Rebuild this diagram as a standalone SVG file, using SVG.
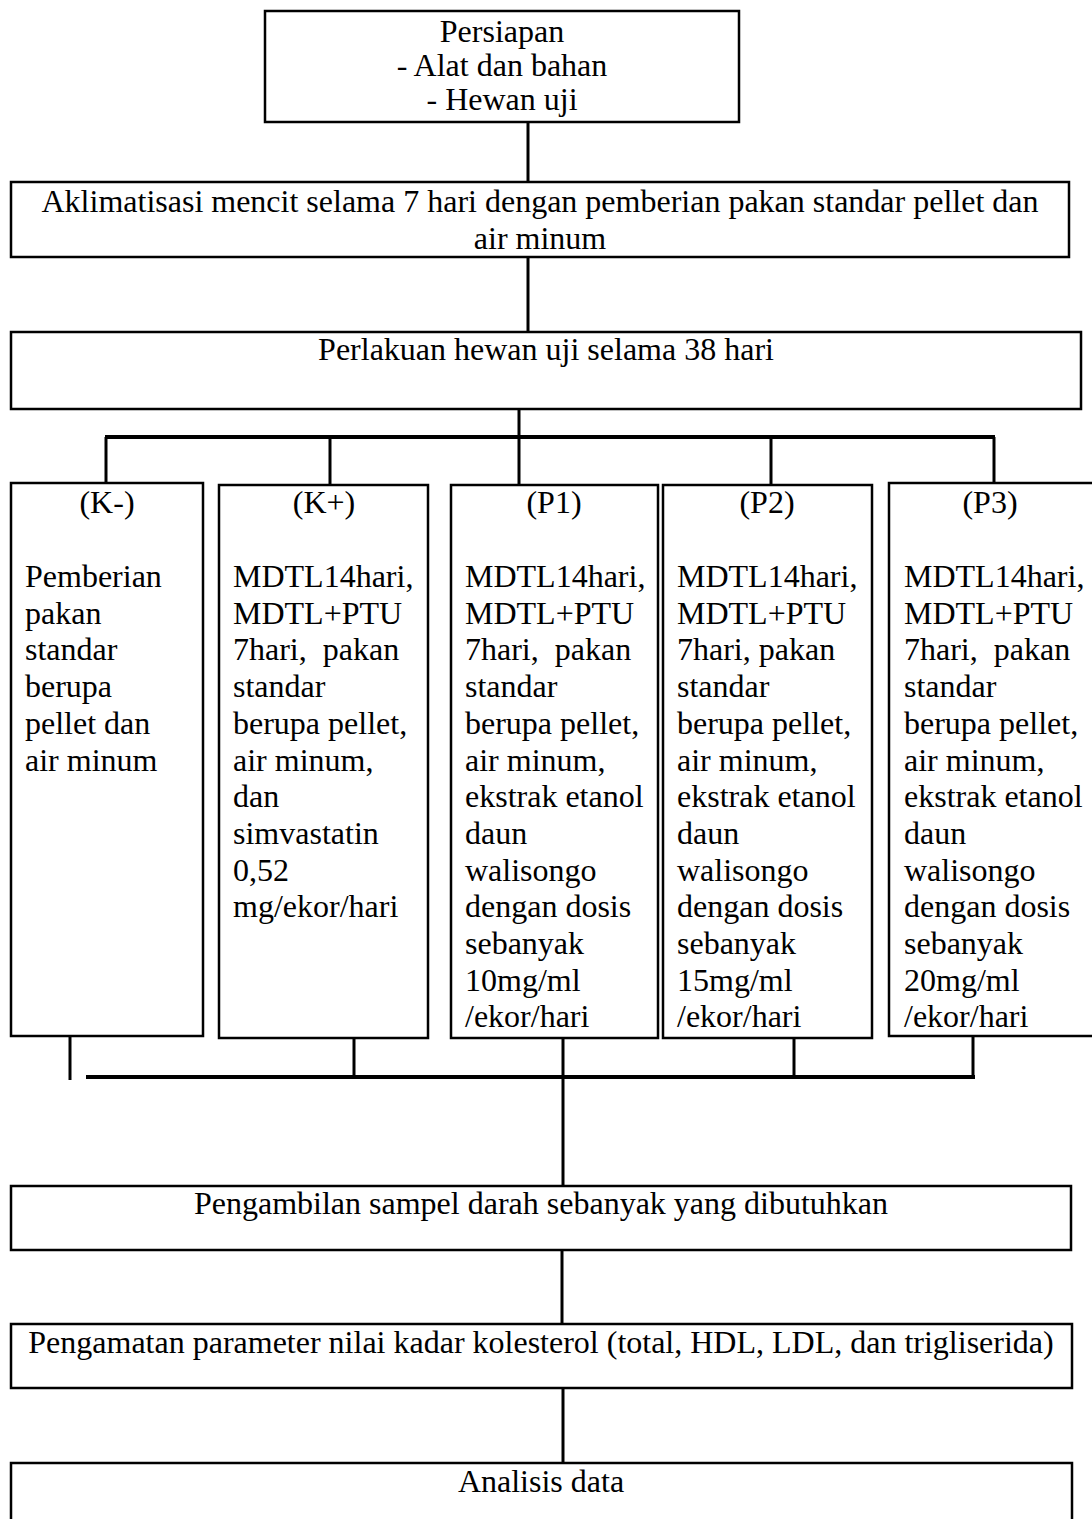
<svg xmlns="http://www.w3.org/2000/svg" width="1092" height="1519" viewBox="0 0 1092 1519">
<style>
  .box { fill: #fff; stroke: #000; stroke-width: 2.5; }
  .t { font-family: "Liberation Serif", "Times New Roman", serif; font-size: 32px; fill: #000; }
  .c { text-anchor: middle; }
  .conn line { stroke: #000; stroke-width: 3; }
  .conn .bar { stroke-width: 4; }
</style>
<rect width="1092" height="1519" fill="#fff"/>
<g id="connectors" class="conn">
  <line x1="528" y1="122" x2="528" y2="182"/>
  <line x1="528" y1="257" x2="528" y2="332"/>
  <line x1="519" y1="409" x2="519" y2="437"/>
  <line class="bar" x1="105" y1="437" x2="995" y2="437"/>
  <line x1="106" y1="437" x2="106" y2="483"/>
  <line x1="330" y1="437" x2="330" y2="485"/>
  <line x1="519" y1="437" x2="519" y2="485"/>
  <line x1="771" y1="437" x2="771" y2="485"/>
  <line x1="994" y1="437" x2="994" y2="483"/>
  <line x1="70" y1="1036" x2="70" y2="1080"/>
  <line x1="354" y1="1038" x2="354" y2="1077"/>
  <line x1="563" y1="1038" x2="563" y2="1186"/>
  <line x1="794" y1="1038" x2="794" y2="1077"/>
  <line x1="973" y1="1037" x2="973" y2="1077"/>
  <line class="bar" x1="86" y1="1077" x2="975" y2="1077"/>
  <line x1="562" y1="1250" x2="562" y2="1324"/>
  <line x1="563" y1="1388" x2="563" y2="1463"/>
</g>
<g id="persiapan">
  <rect class="box" x="265" y="11" width="474" height="111"/>
  <text class="t c" x="502" y="42">Persiapan</text>
  <text class="t c" x="502" y="76">- Alat dan bahan</text>
  <text class="t c" x="502" y="110">- Hewan uji</text>
</g>
<g id="aklimatisasi">
  <rect class="box" x="11" y="182" width="1058" height="75"/>
  <text class="t c" x="540" y="212">Aklimatisasi mencit selama 7 hari dengan pemberian pakan standar pellet dan</text>
  <text class="t c" x="540" y="249">air minum</text>
</g>
<g id="perlakuan">
  <rect class="box" x="11" y="332" width="1070" height="77"/>
  <text class="t c" x="546" y="360">Perlakuan hewan uji selama 38 hari</text>
</g>
<g id="k-minus">
  <rect class="box" x="11" y="483" width="192" height="553"/>
  <text class="t c" x="107" y="513">(K-)</text>
  <text class="t"><tspan x="25" y="587">Pemberian</tspan><tspan x="25" y="623.7">pakan</tspan><tspan x="25" y="660.4">standar</tspan><tspan x="25" y="697.1">berupa</tspan><tspan x="25" y="733.8">pellet dan</tspan><tspan x="25" y="770.5">air minum</tspan></text>
</g>
<g id="k-plus">
  <rect class="box" x="219" y="485" width="209" height="553"/>
  <text class="t c" x="324" y="513">(K+)</text>
  <text class="t" xml:space="preserve"><tspan x="233" y="587">MDTL14hari,</tspan><tspan x="233" y="623.7">MDTL+PTU</tspan><tspan x="233" y="660.4">7hari,  pakan</tspan><tspan x="233" y="697.1">standar</tspan><tspan x="233" y="733.8">berupa pellet,</tspan><tspan x="233" y="770.5">air minum,</tspan><tspan x="233" y="807.2">dan</tspan><tspan x="233" y="843.9">simvastatin</tspan><tspan x="233" y="880.6">0,52</tspan><tspan x="233" y="917.3">mg/ekor/hari</tspan></text>
</g>
<g id="p1">
  <rect class="box" x="451" y="485" width="207" height="553"/>
  <text class="t c" x="554" y="513">(P1)</text>
  <text class="t" xml:space="preserve"><tspan x="465" y="587">MDTL14hari,</tspan><tspan x="465" y="623.7">MDTL+PTU</tspan><tspan x="465" y="660.4">7hari,  pakan</tspan><tspan x="465" y="697.1">standar</tspan><tspan x="465" y="733.8">berupa pellet,</tspan><tspan x="465" y="770.5">air minum,</tspan><tspan x="465" y="807.2">ekstrak etanol</tspan><tspan x="465" y="843.9">daun</tspan><tspan x="465" y="880.6">walisongo</tspan><tspan x="465" y="917.3">dengan dosis</tspan><tspan x="465" y="954">sebanyak</tspan><tspan x="465" y="990.7">10mg/ml</tspan><tspan x="465" y="1027.4">/ekor/hari</tspan></text>
</g>
<g id="p2">
  <rect class="box" x="663" y="485" width="209" height="553"/>
  <text class="t c" x="767" y="513">(P2)</text>
  <text class="t" xml:space="preserve"><tspan x="677" y="587">MDTL14hari,</tspan><tspan x="677" y="623.7">MDTL+PTU</tspan><tspan x="677" y="660.4">7hari, pakan</tspan><tspan x="677" y="697.1">standar</tspan><tspan x="677" y="733.8">berupa pellet,</tspan><tspan x="677" y="770.5">air minum,</tspan><tspan x="677" y="807.2">ekstrak etanol</tspan><tspan x="677" y="843.9">daun</tspan><tspan x="677" y="880.6">walisongo</tspan><tspan x="677" y="917.3">dengan dosis</tspan><tspan x="677" y="954">sebanyak</tspan><tspan x="677" y="990.7">15mg/ml</tspan><tspan x="677" y="1027.4">/ekor/hari</tspan></text>
</g>
<g id="p3">
  <rect class="box" x="889" y="483" width="210" height="553"/>
  <text class="t c" x="990" y="513">(P3)</text>
  <text class="t" xml:space="preserve"><tspan x="904" y="587">MDTL14hari,</tspan><tspan x="904" y="623.7">MDTL+PTU</tspan><tspan x="904" y="660.4">7hari,  pakan</tspan><tspan x="904" y="697.1">standar</tspan><tspan x="904" y="733.8">berupa pellet,</tspan><tspan x="904" y="770.5">air minum,</tspan><tspan x="904" y="807.2">ekstrak etanol</tspan><tspan x="904" y="843.9">daun</tspan><tspan x="904" y="880.6">walisongo</tspan><tspan x="904" y="917.3">dengan dosis</tspan><tspan x="904" y="954">sebanyak</tspan><tspan x="904" y="990.7">20mg/ml</tspan><tspan x="904" y="1027.4">/ekor/hari</tspan></text>
</g>
<g id="pengambilan">
  <rect class="box" x="11" y="1186" width="1060" height="64"/>
  <text class="t c" x="541" y="1214">Pengambilan sampel darah sebanyak yang dibutuhkan</text>
</g>
<g id="pengamatan">
  <rect class="box" x="11" y="1324" width="1061" height="64"/>
  <text class="t c" x="541" y="1353">Pengamatan parameter nilai kadar kolesterol (total, HDL, LDL, dan trigliserida)</text>
</g>
<g id="analisis">
  <rect class="box" x="11" y="1463" width="1061" height="70"/>
  <text class="t c" x="541" y="1492">Analisis data</text>
</g>
</svg>
